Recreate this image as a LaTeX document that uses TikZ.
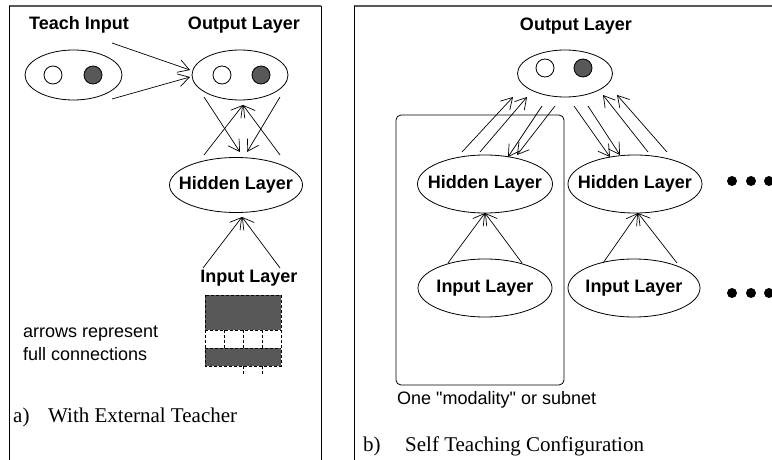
\documentclass[tikz,border=0pt]{standalone}
\usepackage{fontspec}
\setmainfont{Liberation Serif}
\setsansfont{Liberation Sans}
\newfontfamily\qsans[Ligatures=TeXOff]{Liberation Sans}
\usetikzlibrary{arrows.meta,shapes.geometric}
\definecolor{dk}{RGB}{88,88,88}
\begin{document}
\begin{tikzpicture}[x=1pt,y=-1pt,
  lab/.style={font=\sffamily\bfseries\fontsize{18}{20}\selectfont, inner sep=0},
  txt/.style={font=\sffamily\fontsize{18}{20}\selectfont, inner sep=0},
  captxt/.style={font=\rmfamily\fontsize{21}{24}\selectfont, inner sep=0},
  ell/.style={ellipse, draw, line width=0.8pt, inner sep=0},
  unit/.style={circle, draw, line width=0.8pt, inner sep=0, minimum size=18},
  con/.style={line width=0.7pt, -{Straight Barb[length=11pt,width=13pt,line width=0.7pt]}},
  frame/.style={line width=0.8pt},
  topline/.style={line width=1.6pt, draw=black!65},
  dot/.style={circle, fill=black, inner sep=0, minimum size=10},
  cell/.style={draw, dash pattern=on 3pt off 2pt, line width=0.8pt}
]
\useasboundingbox (0,0) rectangle (772,460);

% ---------- frames ----------
\draw[topline] (9,6) -- (321,6);
\draw[frame] (9,6) -- (9,460);
\draw[frame] (321,6) -- (321,460);
\draw[topline] (354,6) -- (772,6);
\draw[frame] (354,6) -- (354,460);

% ---------- panel a ----------
\node[lab] (tiL) at (79,25) {Teach Input};
\node[lab] (olL) at (244,25) {Output Layer};
\node[ell, minimum width=97, minimum height=50] (teach) at (73.5,75) {};
\node[unit, fill=white] (t1) at (53,75) {};
\node[unit, fill=dk] (t2) at (93,75) {};
\node[ell, minimum width=96, minimum height=50] (outA) at (240,75) {};
\node[unit, fill=white] (o1) at (222,75) {};
\node[unit, fill=dk] (o2) at (261,75) {};
\node[ell, minimum width=133, minimum height=55] (hidA) at (236,185) {};
\node[lab] (hidAt) at (hidA) {Hidden Layer};

\coordinate (ta1) at (112,43);
\coordinate (ta2) at (112,99);
\coordinate (oa1) at (190,70);
\coordinate (oa2) at (190,77);
\draw[con] (ta1) -- (oa1);
\draw[con] (ta2) -- (oa2);

\coordinate (xa1) at (204,97);
\coordinate (xa2) at (280,97);
\coordinate (xb1) at (240,152);
\coordinate (xb2) at (247,152);
\coordinate (xc1) at (204,155);
\coordinate (xc2) at (280,155);
\coordinate (xd) at (243,105);
\draw[con] (xa1) -- (xb1);
\draw[con] (xa2) -- (xb2);
\draw[con] (xc1) -- (xd);
\draw[con] (xc2) -- (xd);

\coordinate (ia1) at (203,268);
\coordinate (ia2) at (280,268);
\coordinate (iap) at (242,217);
\draw[con] (ia1) -- (iap);
\draw[con] (ia2) -- (iap);

\node[lab] (ilA) at (249,278) {Input Layer};

% input grid
\fill[dk] (205,295) rectangle (281,330);
\fill[dk] (205,348) rectangle (281,366);
\draw[cell] (205,295) rectangle (281,366);
\draw[cell] (205,330) -- (281,330);
\draw[cell] (205,348) -- (281,348);
\foreach \x in {224,243,262} \draw[cell] (\x,330) -- (\x,348);
\draw[cell] (243,366) -- (243,374);
\draw[cell] (262,366) -- (262,374);

\node[txt, anchor=base west] (n1) at (23,337) {arrows represent};
\node[txt, anchor=base west] (n2) at (23,360) {full connections};

\node[captxt, anchor=base west] (ca) at (13,422) {a)};
\node[captxt, anchor=base west] (cat) at (48,422) {With External Teacher};

% ---------- panel b ----------
\node[lab] (olB) at (576,26) {Output Layer};
\node[ell, minimum width=95, minimum height=47] (outB) at (565,73.5) {};
\node[unit, fill=white] (ob1) at (545,68) {};
\node[unit, fill=dk] (ob2) at (583,68) {};

\draw[line width=0.8pt, rounded corners=5] (396,115) rectangle (564,385);

\node[ell, minimum width=135, minimum height=58] (hidB1) at (485,184) {};
\node[lab] (hb1t) at (hidB1) {Hidden Layer};
\node[ell, minimum width=134, minimum height=58] (hidB2) at (635,184) {};
\node[lab] (hb2t) at (hidB2) {Hidden Layer};
\node[ell, minimum width=134, minimum height=58] (inB1) at (485,288) {};
\node[lab] (ib1t) at (inB1) {Input Layer};
\node[ell, minimum width=132, minimum height=58] (inB2) at (634,288) {};
\node[lab] (ib2t) at (inB2) {Input Layer};

% arrows hidden1 <-> output
\coordinate (u1a) at (462,152); \coordinate (u1b) at (513,97);
\coordinate (u2a) at (480,152); \coordinate (u2b) at (527,97);
\coordinate (d1a) at (542,106); \coordinate (d1b) at (508,157);
\coordinate (d2a) at (555,106); \coordinate (d2b) at (517,155);
\draw[con] (u1a) -- (u1b);
\draw[con] (u2a) -- (u2b);
\draw[con] (d1a) -- (d1b);
\draw[con] (d2a) -- (d2b);
% arrows hidden2 <-> output
\coordinate (d3a) at (574,106); \coordinate (d3b) at (610,157);
\coordinate (d4a) at (588,106); \coordinate (d4b) at (620,155);
\coordinate (u3a) at (648,152); \coordinate (u3b) at (603,95);
\coordinate (u4a) at (667,152); \coordinate (u4b) at (617,95);
\draw[con] (d3a) -- (d3b);
\draw[con] (d4a) -- (d4b);
\draw[con] (u3a) -- (u3b);
\draw[con] (u4a) -- (u4b);
% input -> hidden
\coordinate (p1a) at (448,263); \coordinate (p1b) at (522,263); \coordinate (p1c) at (485,213);
\coordinate (p2a) at (603,263); \coordinate (p2b) at (677,263); \coordinate (p2c) at (638,213);
\draw[con] (p1a) -- (p1c);
\draw[con] (p1b) -- (p1c);
\draw[con] (p2a) -- (p2c);
\draw[con] (p2b) -- (p2c);

% dots
\foreach \x [count=\i] in {732,751,769} {
  \node[dot] (da\i) at (\x,181) {};
  \node[dot] (db\i) at (\x,293) {};
}

\node[txt, anchor=base west] (sub) at (397,404) {\qsans One "modality" or subnet};
\node[captxt, anchor=base west] (cb) at (363,451) {b)};
\node[captxt, anchor=base west] (cbt) at (405,451) {Self Teaching Configuration};
\end{tikzpicture}
\end{document}
